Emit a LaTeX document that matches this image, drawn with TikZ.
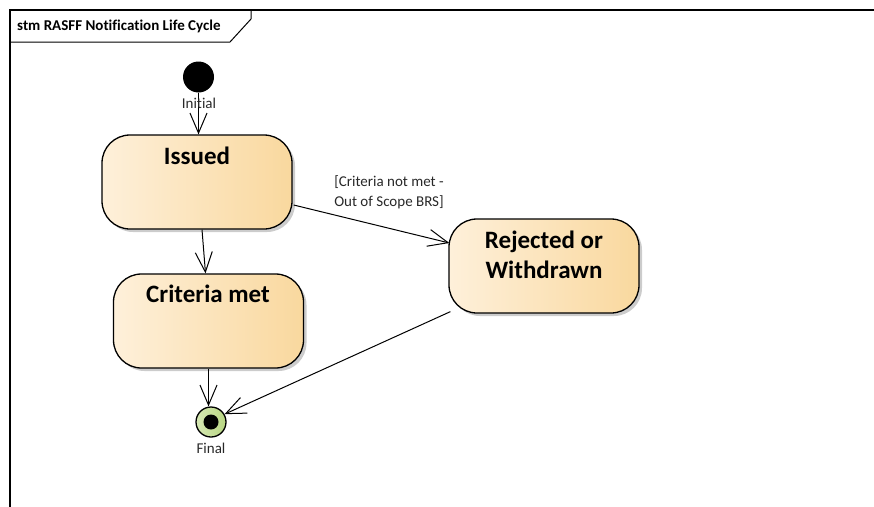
\documentclass[tikz,border=0pt]{standalone}
\usepackage{fontspec}
\setmainfont{Carlito}[Ligatures=NoCommon]
\usetikzlibrary{arrows.meta,shadows,calc}
\definecolor{stateL}{RGB}{254,240,218}
\definecolor{stateR}{RGB}{249,216,158}
\definecolor{finL}{RGB}{214,232,180}
\definecolor{finR}{RGB}{184,214,130}
\definecolor{lblgray}{RGB}{40,40,40}
\tikzset{
  statebox/.style={draw=black, line width=1.3pt, rounded corners=28pt,
    minimum width=190pt, minimum height=94pt, left color=stateL, right color=stateR,
    drop shadow={shadow xshift=3pt, shadow yshift=-3pt, fill=black!20, opacity=1}},
  statetext/.style={font=\fontsize{25}{30}\selectfont\bfseries, align=center, anchor=north},
  trans/.style={line width=1pt, -{Straight Barb[length=20pt, width=17pt, line width=1pt]}},
  smalllbl/.style={font=\fontsize{15}{20}\selectfont, text=lblgray, inner sep=0pt},
}
\begin{document}
\begin{tikzpicture}[x=1pt,y=-1pt]
\useasboundingbox (0,0) rectangle (874,506);
% frame
\draw[line width=2pt] (10,520) -- (10,10) -- (880,10);
\draw[line width=1pt] (10,42) -- (230,42) -- (251,19) -- (251,10);
\node[anchor=west, font=\fontsize{15}{17}\selectfont\bfseries, inner sep=0pt] (title) at (17,26) {stm RASFF Notification Life Cycle};
% initial
\node[circle, fill=black, minimum size=31pt, inner sep=0pt] (init) at (198.5,77) {};
% states
\node[statebox] (issued) at (197,182) {};
\node[statetext] (issuedt) at (197,143) {Issued};
\node[statebox] (crit) at (208.5,321) {};
\node[statetext] (critt) at (208,281) {Criteria met};
\node[statebox] (rej) at (544,266) {};
\node[statetext] (rejt) at (544,227) {Rejected or\\Withdrawn};
% final
\node[circle, draw=black, line width=1.3pt, left color=finL, right color=finR, minimum size=30pt, inner sep=0pt] (fin) at (211,422) {};
\node[circle, fill=black, minimum size=15pt, inner sep=0pt] (findot) at (fin) {};
% transitions
\draw[trans] (init.south) -- (init.south |- issued.north);
\node[smalllbl] (initl) at (199,103) {Initial};
\draw[trans] ($(issued.south)+(5,0)$) -- ($(crit.north)+(-3,0)$);
\coordinate (a1) at ($(issued.east)+(1,23)$);
\coordinate (a2) at ($(rej.west)+(1,-23)$);
\draw[trans] (a1) -- (a2);
\node[smalllbl, align=center] (lbl1) at (389,192) {[Criteria not met -\\Out of Scope BRS]};
\coordinate (c1) at (crit.south);
\draw[trans] (c1) -- (c1 |- fin.north);
\coordinate (b1) at ($(rej.south west)+(2,-2)$);
\draw[trans] (b1) -- (fin.30);
\node[smalllbl] (finl) at (211,448) {Final};
\end{tikzpicture}
\end{document}
